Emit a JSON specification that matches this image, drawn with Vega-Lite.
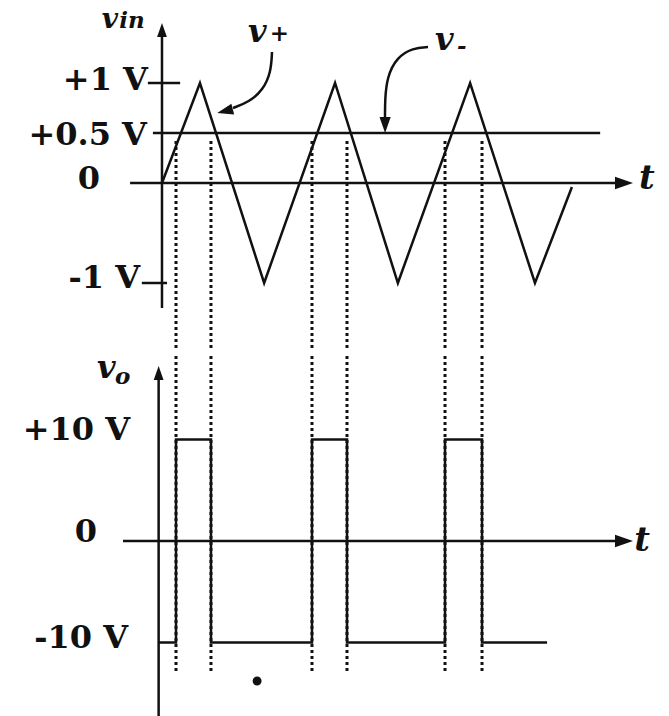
{
  "$schema": "https://vega.github.io/schema/vega-lite/v6.json",
  "padding": 0,
  "spacing": 0,
  "background": "white",
  "config": {"view": {"stroke": null}, "concat": {"spacing": 0}},
  "datasets": {
    "tri": [
      {"i": 0, "t": 0, "v": 0},
      {"i": 1, "t": 1.13, "v": 1},
      {"i": 2, "t": 3.04, "v": -1},
      {"i": 3, "t": 5.15, "v": 1},
      {"i": 4, "t": 7.02, "v": -1},
      {"i": 5, "t": 9.17, "v": 1},
      {"i": 6, "t": 11.1, "v": -1},
      {"i": 7, "t": 12.2, "v": -0.04}
    ],
    "square": [
      {"i": 0, "t": -0.1, "v": -10},
      {"i": 1, "t": 0.417, "v": -10},
      {"i": 2, "t": 0.417, "v": 10},
      {"i": 3, "t": 1.458, "v": 10},
      {"i": 4, "t": 1.458, "v": -10},
      {"i": 5, "t": 4.464, "v": -10},
      {"i": 6, "t": 4.464, "v": 10},
      {"i": 7, "t": 5.506, "v": 10},
      {"i": 8, "t": 5.506, "v": -10},
      {"i": 9, "t": 8.423, "v": -10},
      {"i": 10, "t": 8.423, "v": 10},
      {"i": 11, "t": 9.524, "v": 10},
      {"i": 12, "t": 9.524, "v": -10},
      {"i": 13, "t": 11.46, "v": -10}
    ],
    "crossTop": [
      {"t": 0.417, "v": 0.42, "v2": -1.67},
      {"t": 1.458, "v": 0.42, "v2": -1.67},
      {"t": 4.464, "v": 0.42, "v2": -1.67},
      {"t": 5.506, "v": 0.42, "v2": -1.67},
      {"t": 8.423, "v": 0.42, "v2": -1.67},
      {"t": 9.524, "v": 0.42, "v2": -1.67}
    ],
    "crossBottom": [
      {"t": 0.417, "v": 18.23, "v2": -13.0},
      {"t": 1.458, "v": 18.23, "v2": -13.0},
      {"t": 4.464, "v": 18.23, "v2": -13.0},
      {"t": 5.506, "v": 18.23, "v2": -13.0},
      {"t": 8.423, "v": 18.23, "v2": -13.0},
      {"t": 9.524, "v": 18.23, "v2": -13.0}
    ],
    "segments": [
      {"panel": "top", "part": "threshold", "t": -0.27, "t2": 13.04, "v": 0.5, "v2": 0.5},
      {"panel": "top", "part": "t-axis", "t": -0.95, "t2": 13.75, "v": 0, "v2": 0},
      {"panel": "top", "part": "vin-axis", "t": 0, "t2": 0, "v": -1.25, "v2": 1.53},
      {"panel": "top", "part": "tick+1", "t": -0.42, "t2": 0.54, "v": 1, "v2": 1},
      {"panel": "top", "part": "tick-1", "t": -0.6, "t2": 0.15, "v": -1, "v2": -1},
      {"panel": "bottom", "part": "t-axis", "t": -1.16, "t2": 13.75, "v": 0, "v2": 0},
      {"panel": "bottom", "part": "vo-axis", "t": -0.1, "t2": -0.1, "v": -17.73, "v2": 16.55}
    ],
    "pointers": [
      {"name": "v+", "i": 0, "t": 3.274, "v": 1.31},
      {"name": "v+", "i": 1, "t": 3.244, "v": 1.11},
      {"name": "v+", "i": 2, "t": 3.006, "v": 0.93},
      {"name": "v+", "i": 3, "t": 2.589, "v": 0.81},
      {"name": "v+", "i": 4, "t": 2.113, "v": 0.75},
      {"name": "v-", "i": 0, "t": 7.917, "v": 1.36},
      {"name": "v-", "i": 1, "t": 7.47, "v": 1.35},
      {"name": "v-", "i": 2, "t": 6.994, "v": 1.26},
      {"name": "v-", "i": 3, "t": 6.696, "v": 1.06},
      {"name": "v-", "i": 4, "t": 6.637, "v": 0.83},
      {"name": "v-", "i": 5, "t": 6.637, "v": 0.66}
    ],
    "heads": [
      {"panel": "top", "dir": "right", "t": 13.75, "v": 0},
      {"panel": "top", "dir": "up", "t": 0, "v": 1.53},
      {"panel": "top", "dir": "left", "t": 1.875, "v": 0.72},
      {"panel": "top", "dir": "down", "t": 6.64, "v": 0.58},
      {"panel": "bottom", "dir": "right", "t": 13.75, "v": 0},
      {"panel": "bottom", "dir": "up", "t": -0.1, "v": 16.55}
    ],
    "labels": [
      {"panel": "top", "role": "value", "text": "+1 V", "t": -0.42, "v": 1.03},
      {"panel": "top", "role": "value", "text": "+0.5 V", "t": -0.45, "v": 0.48},
      {"panel": "top", "role": "value", "text": "0", "t": -1.845, "v": 0.04},
      {"panel": "top", "role": "value", "text": "-1 V", "t": -0.655, "v": -0.95},
      {"panel": "top", "role": "varsmall", "text": "v", "t": -1.79, "v": 1.55},
      {"panel": "top", "role": "var", "text": "v", "t": 2.56, "v": 1.41},
      {"panel": "top", "role": "var", "text": "v", "t": 8.125, "v": 1.33},
      {"panel": "top", "role": "sub", "text": "in", "t": -1.27, "v": 1.55},
      {"panel": "top", "role": "sub", "text": "+", "t": 3.21, "v": 1.42},
      {"panel": "top", "role": "sub", "text": "-", "t": 8.78, "v": 1.295},
      {"panel": "top", "role": "t", "text": "t", "t": 14.43, "v": 0.04},
      {"panel": "bottom", "role": "value", "text": "+10 V", "t": -0.952, "v": 10.94},
      {"panel": "bottom", "role": "value", "text": "0", "t": -1.935, "v": 0.89},
      {"panel": "bottom", "role": "value", "text": "-10 V", "t": -1.01, "v": -9.56},
      {"panel": "bottom", "role": "var", "text": "v", "t": -1.935, "v": 16.06},
      {"panel": "bottom", "role": "sub", "text": "o", "t": -1.4, "v": 15.47},
      {"panel": "bottom", "role": "t", "text": "t", "t": 14.29, "v": 0}
    ],
    "dot": [{"t": 2.83, "v": -13.79}]
  },
  "vconcat": [
    {
      "width": 669,
      "height": 350,
      "encoding": {
        "x": {"field": "t", "type": "quantitative", "scale": {"domain": [-4.821, 15.089], "nice": false, "zero": false}, "axis": null},
        "y": {"field": "v", "type": "quantitative", "scale": {"domain": [-1.67, 1.83], "nice": false, "zero": false}, "axis": null}
      },
      "layer": [
        {
          "data": {"name": "crossTop"},
          "mark": {"type": "rule", "color": "#111", "strokeWidth": 3, "strokeDash": [3, 3]},
          "encoding": {"y2": {"field": "v2"}}
        },
        {
          "data": {"name": "segments"},
          "transform": [{"filter": "datum.panel == 'top'"}],
          "mark": {"type": "rule", "color": "#111", "strokeWidth": 2.5},
          "encoding": {"x2": {"field": "t2"}, "y2": {"field": "v2"}}
        },
        {
          "data": {"name": "tri"},
          "mark": {"type": "line", "color": "#111", "strokeWidth": 2.5, "strokeJoin": "miter"},
          "encoding": {"order": {"field": "i"}}
        },
        {
          "data": {"name": "pointers"},
          "mark": {"type": "line", "color": "#111", "strokeWidth": 2.5, "interpolate": "basis"},
          "encoding": {"detail": {"field": "name"}, "order": {"field": "i"}}
        },
        {
          "data": {"name": "heads"},
          "transform": [{"filter": "datum.panel == 'top' && datum.dir == 'right'"}],
          "mark": {"type": "point", "shape": "M-1,-0.7L1,0L-1,0.7Z", "size": 324, "filled": true, "opacity": 1, "color": "#111"}
        },
        {
          "data": {"name": "heads"},
          "transform": [{"filter": "datum.panel == 'top' && datum.dir == 'up'"}],
          "mark": {"type": "point", "shape": "M-0.7,1L0,-1L0.7,1Z", "size": 196, "filled": true, "opacity": 1, "color": "#111"}
        },
        {
          "data": {"name": "heads"},
          "transform": [{"filter": "datum.panel == 'top' && datum.dir == 'left'"}],
          "mark": {"type": "point", "shape": "M-1,-0.7L1,0L-1,0.7Z", "angle": 166, "size": 256, "filled": true, "opacity": 1, "color": "#111"}
        },
        {
          "data": {"name": "heads"},
          "transform": [{"filter": "datum.panel == 'top' && datum.dir == 'down'"}],
          "mark": {"type": "point", "shape": "M-0.7,-1L0,1L0.7,-1Z", "size": 256, "filled": true, "opacity": 1, "color": "#111"}
        },
        {
          "data": {"name": "labels"},
          "transform": [{"filter": "datum.panel == 'top' && datum.role == 'value'"}],
          "mark": {"type": "text", "align": "right", "baseline": "middle", "font": "DejaVu Serif", "fontWeight": "bold", "fontSize": 32, "color": "#111"},
          "encoding": {"text": {"field": "text"}}
        },
        {
          "data": {"name": "labels"},
          "transform": [{"filter": "datum.panel == 'top' && datum.role == 'var'"}],
          "mark": {"type": "text", "align": "left", "baseline": "alphabetic", "font": "DejaVu Serif", "fontStyle": "italic", "fontWeight": "bold", "fontSize": 32, "color": "#111"},
          "encoding": {"text": {"field": "text"}}
        },
        {
          "data": {"name": "labels"},
          "transform": [{"filter": "datum.panel == 'top' && datum.role == 'varsmall'"}],
          "mark": {"type": "text", "align": "left", "baseline": "alphabetic", "font": "DejaVu Serif", "fontStyle": "italic", "fontWeight": "bold", "fontSize": 28, "color": "#111"},
          "encoding": {"text": {"field": "text"}}
        },
        {
          "data": {"name": "labels"},
          "transform": [{"filter": "datum.panel == 'top' && datum.role == 'sub'"}],
          "mark": {"type": "text", "align": "left", "baseline": "alphabetic", "font": "DejaVu Serif", "fontStyle": "italic", "fontWeight": "bold", "fontSize": 23, "color": "#111"},
          "encoding": {"text": {"field": "text"}}
        },
        {
          "data": {"name": "labels"},
          "transform": [{"filter": "datum.panel == 'top' && datum.role == 't'"}],
          "mark": {"type": "text", "align": "center", "baseline": "middle", "font": "DejaVu Serif", "fontStyle": "italic", "fontWeight": "bold", "fontSize": 34, "color": "#111"},
          "encoding": {"text": {"field": "text"}}
        }
      ]
    },
    {
      "width": 669,
      "height": 366,
      "encoding": {
        "x": {"field": "t", "type": "quantitative", "scale": {"domain": [-4.821, 15.089], "nice": false, "zero": false}, "axis": null},
        "y": {"field": "v", "type": "quantitative", "scale": {"domain": [-17.83, 18.23], "nice": false, "zero": false}, "axis": null}
      },
      "layer": [
        {
          "data": {"name": "crossBottom"},
          "mark": {"type": "rule", "color": "#111", "strokeWidth": 3, "strokeDash": [3, 3]},
          "encoding": {"y2": {"field": "v2"}}
        },
        {
          "data": {"name": "segments"},
          "transform": [{"filter": "datum.panel == 'bottom'"}],
          "mark": {"type": "rule", "color": "#111", "strokeWidth": 2.5},
          "encoding": {"x2": {"field": "t2"}, "y2": {"field": "v2"}}
        },
        {
          "data": {"name": "square"},
          "mark": {"type": "line", "color": "#111", "strokeWidth": 2.5, "strokeJoin": "miter"},
          "encoding": {"order": {"field": "i"}}
        },
        {
          "data": {"name": "heads"},
          "transform": [{"filter": "datum.panel == 'bottom' && datum.dir == 'right'"}],
          "mark": {"type": "point", "shape": "M-1,-0.7L1,0L-1,0.7Z", "size": 324, "filled": true, "opacity": 1, "color": "#111"}
        },
        {
          "data": {"name": "heads"},
          "transform": [{"filter": "datum.panel == 'bottom' && datum.dir == 'up'"}],
          "mark": {"type": "point", "shape": "M-0.7,1L0,-1L0.7,1Z", "size": 196, "filled": true, "opacity": 1, "color": "#111"}
        },
        {
          "data": {"name": "dot"},
          "mark": {"type": "point", "shape": "circle", "size": 80, "filled": true, "opacity": 1, "color": "#111"}
        },
        {
          "data": {"name": "labels"},
          "transform": [{"filter": "datum.panel == 'bottom' && datum.role == 'value'"}],
          "mark": {"type": "text", "align": "right", "baseline": "middle", "font": "DejaVu Serif", "fontWeight": "bold", "fontSize": 32, "color": "#111"},
          "encoding": {"text": {"field": "text"}}
        },
        {
          "data": {"name": "labels"},
          "transform": [{"filter": "datum.panel == 'bottom' && datum.role == 'var'"}],
          "mark": {"type": "text", "align": "left", "baseline": "alphabetic", "font": "DejaVu Serif", "fontStyle": "italic", "fontWeight": "bold", "fontSize": 32, "color": "#111"},
          "encoding": {"text": {"field": "text"}}
        },
        {
          "data": {"name": "labels"},
          "transform": [{"filter": "datum.panel == 'bottom' && datum.role == 'sub'"}],
          "mark": {"type": "text", "align": "left", "baseline": "alphabetic", "font": "DejaVu Serif", "fontStyle": "italic", "fontWeight": "bold", "fontSize": 23, "color": "#111"},
          "encoding": {"text": {"field": "text"}}
        },
        {
          "data": {"name": "labels"},
          "transform": [{"filter": "datum.panel == 'bottom' && datum.role == 't'"}],
          "mark": {"type": "text", "align": "center", "baseline": "middle", "font": "DejaVu Serif", "fontStyle": "italic", "fontWeight": "bold", "fontSize": 34, "color": "#111"},
          "encoding": {"text": {"field": "text"}}
        }
      ]
    }
  ]
}
